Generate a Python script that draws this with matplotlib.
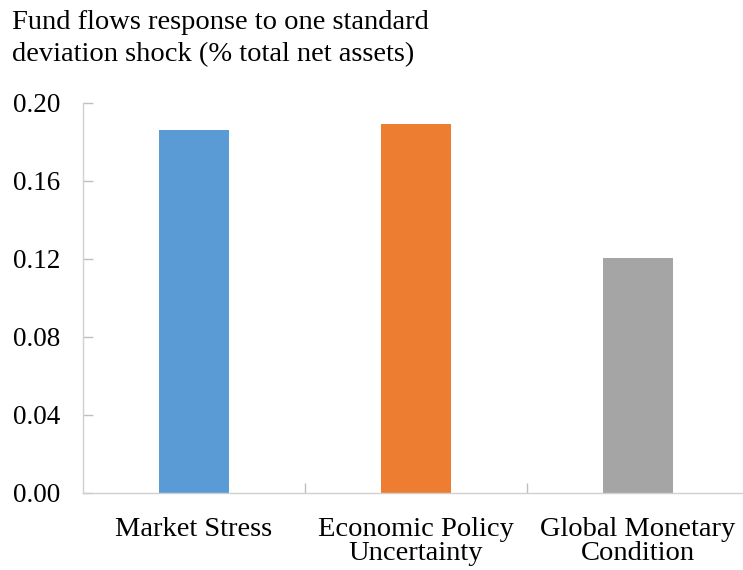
import matplotlib
matplotlib.use("Agg")
import matplotlib.pyplot as plt

categories = ["Market Stress", "Economic Policy\nUncertainty", "Global Monetary\nCondition"]
values = [0.186, 0.189, 0.1205]
colors = ["#5B9BD5", "#ED7D31", "#A5A5A5"]
yticks = [0.00, 0.04, 0.08, 0.12, 0.16, 0.20]
title = "Fund flows response to one standard\ndeviation shock (% total net assets)"

plt.rcParams['font.family'] = ['Liberation Serif', 'DejaVu Serif']

fig = plt.figure(figsize=(7.43, 5.70), dpi=100)
ax = fig.add_axes([83/743, 77/570, 666/743, 390/570])
x = list(range(len(categories)))
ax.bar(x, values, width=0.315, color=colors, zorder=2)
ax.set_xlim(-0.5, 2.5)
ax.set_ylim(0, 0.20)
ax.set_yticks(yticks)
ax.set_yticklabels([f"{v:.2f}" for v in yticks], fontsize=19.5)
ax.set_xticks(x)
ax.set_xticklabels(categories, fontsize=20.5, linespacing=0.93)
ax.tick_params(axis='x', length=0, pad=17.5)
ax.set_xticks([0.5, 1.5, 2.5], minor=True)
ax.tick_params(axis='x', which='minor', direction='in', length=7, color='#BFBFBF', width=1)
ax.tick_params(axis='y', direction='in', length=7, color='#BFBFBF', width=1, pad=16.5)
for s in ['top', 'right']:
    ax.spines[s].set_visible(False)
for s in ['left', 'bottom']:
    ax.spines[s].set_color('#D0D0D0')
    ax.spines[s].set_linewidth(1)
fig.text(12/743, 1 - 10/570, title, fontsize=20.5, va='top', ha='left', linespacing=1.38)
fig.savefig("out.png", dpi=100)
